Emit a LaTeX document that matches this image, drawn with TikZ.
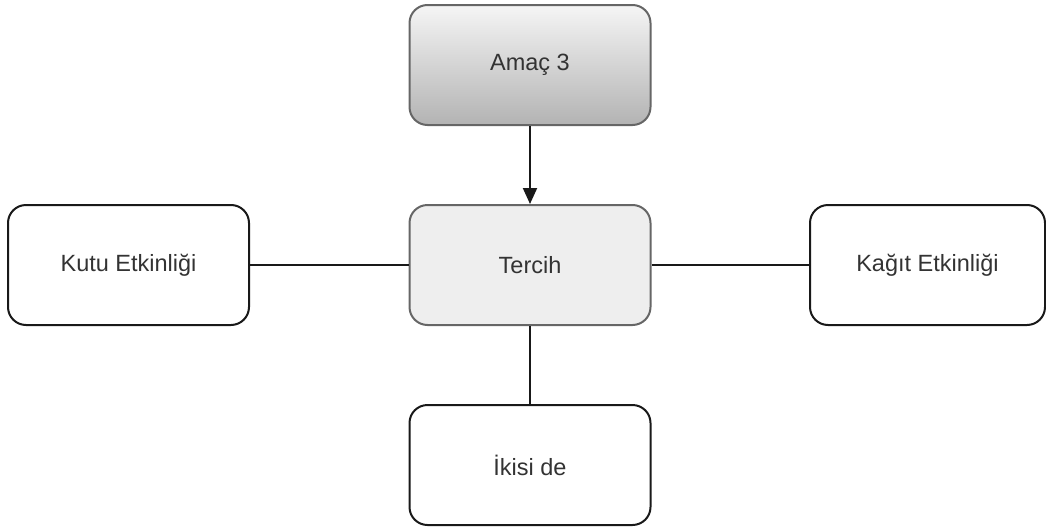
\documentclass[tikz,border=0pt]{standalone}
\usepackage{fontspec}
\setmainfont{Liberation Sans}
\usetikzlibrary{arrows.meta}
\definecolor{edgegray}{HTML}{666666}
\definecolor{textgray}{HTML}{333333}
\definecolor{lightfill}{HTML}{EEEEEE}
\definecolor{gradtop}{HTML}{F5F5F5}
\definecolor{gradbottom}{HTML}{B3B3B3}
\begin{document}
\begin{tikzpicture}[x=1pt,y=-1pt,
  box/.style={rectangle, rounded corners=18pt, draw=black!90, line width=2pt,
    minimum width=241pt, minimum height=120pt, inner sep=0pt,
    font=\fontsize{23.5}{28}\selectfont, text=black!80},
  graybox/.style={box, draw=edgegray, text=textgray},
  link/.style={line width=2pt, draw=black!90},
  arrowlink/.style={link, -{Triangle[length=16pt,width=14pt]}}]
  \useasboundingbox (0,0) rectangle (1046,530);
  % central choice and its goal above
  \node[graybox, top color=gradtop, bottom color=gradbottom] (goal) at (530,65) {Amaç 3};
  \node[graybox, fill=lightfill] (choice) at (530,265) {Tercih};
  % the three alternatives
  \node[box] (box) at (128.5,265) {Kutu Etkinliği};
  \node[box, minimum width=235pt] (paper) at (927.5,265) {Kağıt Etkinliği};
  \node[box] (both) at (530,465) {İkisi de};
  % connectors
  \draw[arrowlink] (goal) -- (choice);
  \draw[link] (choice) -- (box);
  \draw[link] (choice) -- (paper);
  \draw[link] (choice) -- (both);
\end{tikzpicture}
\end{document}
